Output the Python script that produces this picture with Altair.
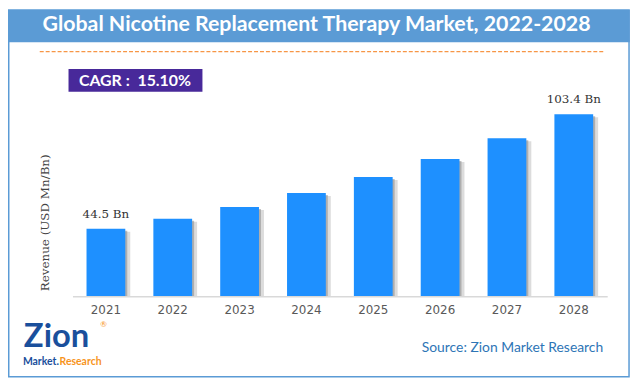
import altair as alt
import pandas as pd

years = ["2021", "2022", "2023", "2024", "2025", "2026", "2027", "2028"]
revenue = [44.5, 49.6, 55.7, 62.9, 71.1, 80.4, 91.1, 103.4]
bar_labels = ["44.5 Bn", "", "", "", "", "", "", "103.4 Bn"]

title_text = "Global Nicotine Replacement Therapy Market, 2022-2028"
cagr_text = "CAGR :\u00a0 15.10%"
y_title = "Revenue (USD Mn/Bn)"
source_text = "Source: Zion Market Research"

Y_MIN, Y_MAX = 9.76, 130.8

df = pd.DataFrame({"year": years, "revenue": revenue, "label": bar_labels})
one = pd.DataFrame({"k": [0]})

PL, PT = 65, 52          # plot origin inside chart
W, H = 630, 371          # whole chart
PW, PH = 539, 237        # plot area


def X(px):
    return px - 8 - PL


def Y(py):
    return py - 8 - PT


def single():
    return alt.Chart(one)


frame = single().mark_rect(fillOpacity=0, stroke="#5B9BD5", strokeWidth=1.5).encode(
    x=alt.value(X(8.75)), x2=alt.value(X(634)), y=alt.value(Y(8.75)), y2=alt.value(Y(378.25))
)
band = single().mark_rect(fill="#5B9BD5").encode(
    x=alt.value(X(8)), x2=alt.value(X(634.75)), y=alt.value(Y(8)), y2=alt.value(Y(41))
)
title = single().mark_text(
    text=title_text, font="Lato", fontWeight="bold", fontSize=21.5, color="white",
    align="center", baseline="middle"
).encode(x=alt.value(X(319)), y=alt.value(Y(24)))

dash = single().mark_rule(color="#F79646", strokeWidth=1.2, strokeDash=[4, 2]).encode(
    x=alt.value(X(40)), x2=alt.value(X(610)), y=alt.value(Y(50.5))
)

cagr_box = single().mark_rect(fill="#48299A").encode(
    x=alt.value(X(69)), x2=alt.value(X(204)), y=alt.value(Y(68)), y2=alt.value(Y(91))
)
cagr = single().mark_text(
    text=cagr_text, font="Lato", fontWeight="bold", fontSize=16, color="white",
    align="center", baseline="middle"
).encode(x=alt.value(X(136)), y=alt.value(Y(80)))

xenc = alt.X(
    "year:N",
    sort=years,
    scale=alt.Scale(paddingInner=0.42, paddingOuter=0.21),
    axis=alt.Axis(
        title=None, labelAngle=0, ticks=False, domainColor="#D9D9D9", domainWidth=1.5,
        labelFont="DejaVu Sans", labelFontSize=12, labelColor="#595959", labelPadding=8,
        grid=False, zindex=1,
    ),
)
yenc = alt.Y("revenue:Q", scale=alt.Scale(domain=[Y_MIN, Y_MAX], zero=False, nice=False), axis=None)
y2enc = alt.Y2("base:Q")

base = alt.Chart(df).transform_calculate(base=str(Y_MIN))
shadow1 = base.mark_bar(color="#9a9a9a", opacity=0.35, xOffset=5, yOffset=3).encode(
    x=xenc, y=yenc, y2=y2enc
)
shadow2 = base.mark_bar(color="#808080", opacity=0.5, xOffset=2, yOffset=2).encode(
    x=xenc, y=yenc, y2=y2enc
)
bars = base.mark_bar(color="#1E90FF").encode(x=xenc, y=yenc, y2=y2enc)
labels = alt.Chart(df).mark_text(
    font="DejaVu Serif", fontSize=12, color="#333333", baseline="bottom", dy=-8
).encode(x=xenc, y=yenc, text="label:N")

ytitle = single().mark_text(
    text=y_title, font="DejaVu Serif", fontSize=12, color="#444444", angle=270,
    align="center", baseline="middle"
).encode(x=alt.value(X(45)), y=alt.value(Y(223)))

logo_zion = single().mark_text(
    text="Zion", font="Lato", fontWeight="bold", fontSize=33, color="#1A4F9C",
    align="left", baseline="alphabetic"
).encode(x=alt.value(X(24)), y=alt.value(Y(348)))
logo_reg = single().mark_text(
    text="®", font="Lato", fontSize=8, color="#F7941D", align="left", baseline="middle"
).encode(x=alt.value(X(101)), y=alt.value(Y(326)))
logo_market = single().mark_text(
    text="Market.", font="Lato", fontWeight="bold", fontSize=10.5, color="#1A4F9C",
    align="left", baseline="alphabetic"
).encode(x=alt.value(X(23)), y=alt.value(Y(366)))
logo_research = single().mark_text(
    text="Research", font="Lato", fontWeight="bold", fontSize=10.5, color="#F7941D",
    align="left", baseline="alphabetic"
).encode(x=alt.value(X(60)), y=alt.value(Y(366)))

source = single().mark_text(
    text=source_text, font="Lato", fontSize=14, color="#2E75B6",
    align="right", baseline="middle"
).encode(x=alt.value(X(608)), y=alt.value(Y(349)))

chart = alt.layer(
    frame, band, title, dash, cagr_box, cagr,
    shadow1, shadow2, bars, labels, ytitle,
    logo_zion, logo_reg, logo_market, logo_research, source,
).properties(
    width=PW, height=PH,
    autosize=alt.AutoSizeParams(type="none"),
    padding={"left": PL, "top": PT, "right": W - PL - PW, "bottom": H - PT - PH},
    background="white",
).configure_view(stroke=None)

chart.save("out.html", embed_options={"renderer": "svg", "actions": False})
